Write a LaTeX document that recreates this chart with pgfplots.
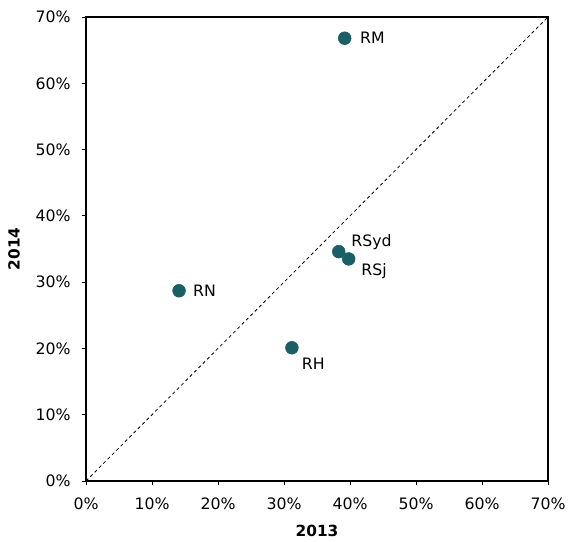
\documentclass[border=0pt]{standalone}
\usepackage{pgfplots}
\pgfplotsset{compat=1.18}
\usepackage{fontspec}
\setmainfont{DejaVu Sans}
\definecolor{teal1}{HTML}{1A5E66}
\begin{document}
\begin{tikzpicture}
\begin{axis}[
  scale only axis,
  width=346.5pt, height=348pt,
  xmin=0, xmax=70, ymin=0, ymax=70,
  xtick={0,10,...,70}, ytick={0,10,...,70},
  xticklabel={\pgfmathprintnumber{\tick}\%},
  yticklabel={\pgfmathprintnumber{\tick}\%},
  /pgf/number format/assume math mode=true,
  tick label style={font=\fontsize{11.8}{13}\selectfont},
  xticklabel style={yshift=-6pt},
  yticklabel style={xshift=-5pt},
  tick align=outside,
  xtick pos=bottom, ytick pos=left,
  major tick length=3pt,
  axis line style={line width=0.9pt},
  tick style={black, line width=0.6pt},
  xlabel={\textbf{2013}}, ylabel={\textbf{2014}},
  label style={font=\fontsize{11.5}{13}\selectfont},
  xlabel style={yshift=-5pt},
  ylabel style={yshift=5pt},
  clip=false,
  nodes near coords={\pgfplotspointmeta},
  point meta=explicit symbolic,
  every node near coord/.append style={font=\fontsize{11.8}{13}\selectfont, black},
]
\coordinate (ll) at (rel axis cs:0,0);
\coordinate (ur) at (rel axis cs:1,1);
\addplot[black, line width=0.6pt, dash pattern=on 2.4pt off 2.2pt, nodes near coords={}] coordinates {(0,0) (70,70)};
\addplot[only marks, mark=*, mark size=4.8pt, color=teal1, every node near coord/.append style={anchor=west, xshift=8pt}] coordinates {(39.2,66.8) [RM]};
\addplot[only marks, mark=*, mark size=4.8pt, color=teal1, every node near coord/.append style={anchor=south west, xshift=6pt, yshift=-2pt}] coordinates {(38.3,34.6) [RSyd]};
\addplot[only marks, mark=*, mark size=4.8pt, color=teal1, every node near coord/.append style={anchor=north west, xshift=6pt, yshift=0pt}] coordinates {(39.8,33.5) [RSj]};
\addplot[only marks, mark=*, mark size=4.8pt, color=teal1, every node near coord/.append style={anchor=west, xshift=7pt}] coordinates {(14.1,28.7) [RN]};
\addplot[only marks, mark=*, mark size=4.8pt, color=teal1, every node near coord/.append style={anchor=north west, xshift=4pt, yshift=-4pt}] coordinates {(31.2,20.1) [RH]};
\end{axis}
\pgfresetboundingbox
\path ([xshift=-64.5pt,yshift=-45.75pt]ll) rectangle ([xshift=17.25pt,yshift=12.75pt]ur);
\end{tikzpicture}
\end{document}
